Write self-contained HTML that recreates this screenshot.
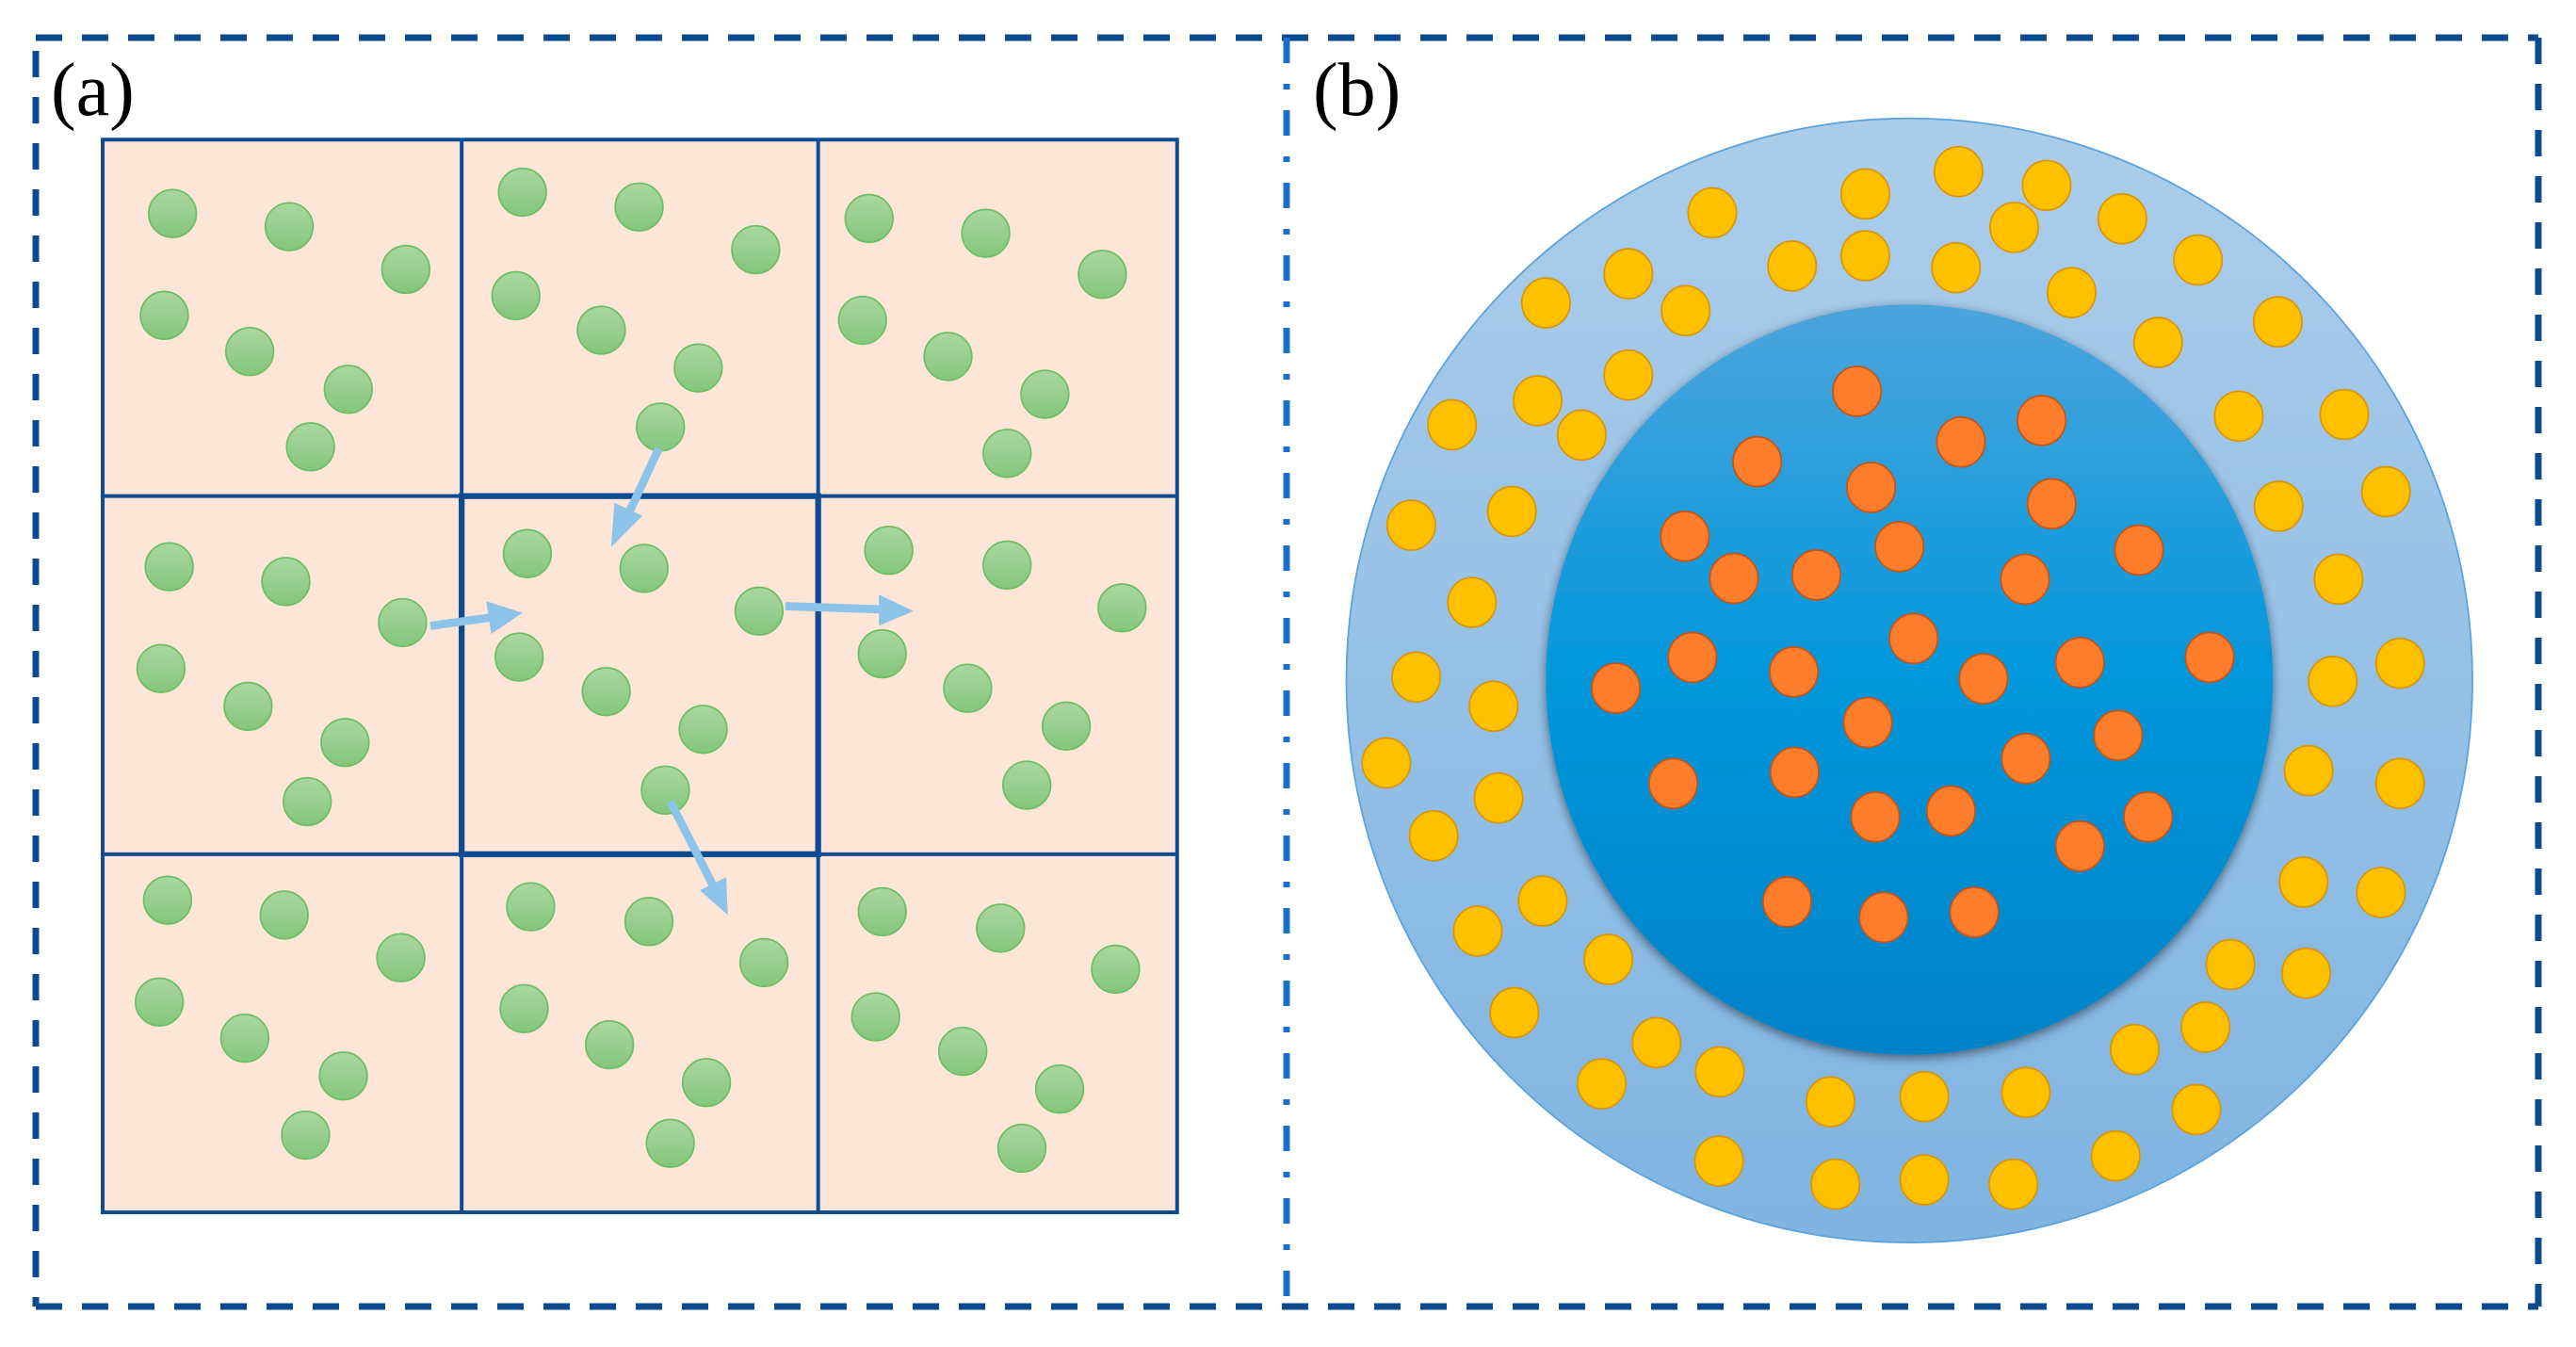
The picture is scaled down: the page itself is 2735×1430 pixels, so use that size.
<!DOCTYPE html>
<html><head><meta charset="utf-8"><style>
html,body{margin:0;padding:0;background:#fff;}
svg{display:block;}
</style></head><body>
<svg width="2735" height="1430" viewBox="0 0 2735 1430" xmlns="http://www.w3.org/2000/svg">
<defs>
<linearGradient id="g" x1="0" y1="0" x2="0" y2="1"><stop offset="0" stop-color="#aad7a2"/><stop offset="1" stop-color="#84c67c"/></linearGradient>
<linearGradient id="ring" x1="0" y1="0" x2="0" y2="1"><stop offset="0" stop-color="#abcdeb"/><stop offset="1" stop-color="#7fb4e1"/></linearGradient>
<linearGradient id="core" x1="0" y1="0" x2="0" y2="1"><stop offset="0" stop-color="#4ca5dc"/><stop offset="0.5" stop-color="#0097dc"/><stop offset="1" stop-color="#0282c8"/></linearGradient>
<filter id="sh" x="-10%" y="-10%" width="120%" height="120%"><feGaussianBlur in="SourceAlpha" stdDeviation="6"/><feOffset dy="4"/><feComponentTransfer><feFuncA type="linear" slope="0.5"/></feComponentTransfer><feMerge><feMergeNode/><feMergeNode in="SourceGraphic"/></feMerge></filter>
</defs>

<g transform="scale(1.7443,1.7439)">
  <rect x="62" y="85" width="654" height="653" fill="#fde5d8"/>
  <g stroke="#0e4c92" stroke-width="2.3" fill="none">
    <rect x="62.5" y="85" width="654" height="653"/>
    <line x1="281" y1="85" x2="281" y2="738"/>
    <line x1="498" y1="85" x2="498" y2="738"/>
    <line x1="62" y1="302" x2="716" y2="302"/>
    <line x1="62" y1="520" x2="716" y2="520"/>
    <rect x="281" y="302" width="217" height="218" stroke-width="3.6"/>
  </g>
  <g fill="url(#g)" stroke="#6cbf62" stroke-width="1">
    <circle cx="105" cy="130" r="14.5"/><circle cx="176" cy="138" r="14.5"/><circle cx="247" cy="164" r="14.5"/><circle cx="100" cy="192" r="14.5"/><circle cx="152" cy="214" r="14.5"/><circle cx="212" cy="237" r="14.5"/><circle cx="189" cy="272" r="14.5"/>
    <circle cx="318" cy="117" r="14.5"/><circle cx="389" cy="126" r="14.5"/><circle cx="460" cy="152" r="14.5"/><circle cx="314" cy="180" r="14.5"/><circle cx="366" cy="201" r="14.5"/><circle cx="425" cy="224" r="14.5"/><circle cx="402" cy="260" r="14.5"/>
    <circle cx="529" cy="133" r="14.5"/><circle cx="600" cy="142" r="14.5"/><circle cx="671" cy="167" r="14.5"/><circle cx="525" cy="195" r="14.5"/><circle cx="577" cy="217" r="14.5"/><circle cx="636" cy="240" r="14.5"/><circle cx="613" cy="276" r="14.5"/>
    <circle cx="103" cy="345" r="14.5"/><circle cx="174" cy="354" r="14.5"/><circle cx="245" cy="379" r="14.5"/><circle cx="98" cy="407" r="14.5"/><circle cx="151" cy="430" r="14.5"/><circle cx="210" cy="452" r="14.5"/><circle cx="187" cy="488" r="14.5"/>
    <circle cx="321" cy="337" r="14.5"/><circle cx="392" cy="346" r="14.5"/><circle cx="462" cy="372" r="14.5"/><circle cx="316" cy="400" r="14.5"/><circle cx="369" cy="421" r="14.5"/><circle cx="428" cy="444" r="14.5"/><circle cx="405" cy="481" r="14.5"/>
    <circle cx="541" cy="335" r="14.5"/><circle cx="613" cy="344" r="14.5"/><circle cx="683" cy="370" r="14.5"/><circle cx="537" cy="398" r="14.5"/><circle cx="589" cy="419" r="14.5"/><circle cx="649" cy="442" r="14.5"/><circle cx="625" cy="478" r="14.5"/>
    <circle cx="102" cy="548" r="14.5"/><circle cx="173" cy="557" r="14.5"/><circle cx="244" cy="583" r="14.5"/><circle cx="97" cy="610" r="14.5"/><circle cx="149" cy="632" r="14.5"/><circle cx="209" cy="655" r="14.5"/><circle cx="186" cy="691" r="14.5"/>
    <circle cx="323" cy="552" r="14.5"/><circle cx="395" cy="561" r="14.5"/><circle cx="465" cy="586" r="14.5"/><circle cx="319" cy="614" r="14.5"/><circle cx="371" cy="636" r="14.5"/><circle cx="430" cy="659" r="14.5"/><circle cx="408" cy="696" r="14.5"/>
    <circle cx="537" cy="555" r="14.5"/><circle cx="609" cy="565" r="14.5"/><circle cx="679" cy="590" r="14.5"/><circle cx="533" cy="619" r="14.5"/><circle cx="586" cy="640" r="14.5"/><circle cx="645" cy="663" r="14.5"/><circle cx="622" cy="699" r="14.5"/>
  </g>
  <g stroke="#8cc3e8" stroke-width="5" fill="#8cc3e8">
    <line x1="401" y1="273" x2="382" y2="314"/><polygon points="372,333 374,306 391,314" stroke="none"/>
    <line x1="262" y1="381" x2="298" y2="376"/><polygon points="318,373 296,366 299,386" stroke="none"/>
    <line x1="478" y1="369" x2="537" y2="371"/><polygon points="556,372 535,362 535,381" stroke="none"/>
    <line x1="408" y1="488" x2="434" y2="539"/><polygon points="443,557 426,542 442,534" stroke="none"/>
  </g>
</g>
<text x="54" y="122" font-family="Liberation Serif, serif" font-size="80" fill="#000">(a)</text>

<g transform="translate(1350,0) scale(0.883,0.911)">
  <ellipse cx="767" cy="793" rx="677" ry="655" fill="url(#ring)" stroke="#5ca3dc" stroke-width="2"/>
  <circle cx="767" cy="792" r="437" fill="url(#core)" filter="url(#sh)"/>
  <g fill="#ffc000" stroke="#d8960a" stroke-width="2">
    <circle cx="530" cy="248" r="29"/><circle cx="714" cy="226" r="29"/><circle cx="826" cy="200" r="29"/><circle cx="932" cy="216" r="29"/><circle cx="1023" cy="255" r="29"/><circle cx="893" cy="265" r="29"/><circle cx="626" cy="310" r="29"/><circle cx="714" cy="298" r="29"/><circle cx="823" cy="312" r="29"/><circle cx="962" cy="341" r="29"/><circle cx="1114" cy="303" r="29"/><circle cx="1210" cy="375" r="29"/><circle cx="1066" cy="399" r="29"/><circle cx="429" cy="319" r="29"/><circle cx="330" cy="353" r="29"/><circle cx="498" cy="362" r="29"/><circle cx="429" cy="437" r="29"/><circle cx="320" cy="467" r="29"/><circle cx="373" cy="507" r="29"/><circle cx="217" cy="495" r="29"/><circle cx="289" cy="596" r="29"/><circle cx="168" cy="612" r="29"/><circle cx="1163" cy="485" r="29"/><circle cx="1290" cy="483" r="29"/><circle cx="1340" cy="573" r="29"/><circle cx="1211" cy="590" r="29"/><circle cx="1283" cy="675" r="29"/><circle cx="241" cy="702" r="29"/><circle cx="174" cy="789" r="29"/><circle cx="267" cy="823" r="29"/><circle cx="138" cy="889" r="29"/><circle cx="273" cy="930" r="29"/><circle cx="195" cy="974" r="29"/><circle cx="1276" cy="794" r="29"/><circle cx="1357" cy="773" r="29"/><circle cx="1247" cy="898" r="29"/><circle cx="1357" cy="913" r="29"/><circle cx="1241" cy="1028" r="29"/><circle cx="1334" cy="1040" r="29"/><circle cx="326" cy="1050" r="29"/><circle cx="248" cy="1085" r="29"/><circle cx="405" cy="1118" r="29"/><circle cx="292" cy="1180" r="29"/><circle cx="463" cy="1215" r="29"/><circle cx="397" cy="1263" r="29"/><circle cx="539" cy="1249" r="29"/><circle cx="1153" cy="1124" r="29"/><circle cx="1244" cy="1134" r="29"/><circle cx="1123" cy="1197" r="29"/><circle cx="1038" cy="1223" r="29"/><circle cx="1112" cy="1293" r="29"/><circle cx="672" cy="1284" r="29"/><circle cx="785" cy="1278" r="29"/><circle cx="907" cy="1273" r="29"/><circle cx="538" cy="1353" r="29"/><circle cx="678" cy="1380" r="29"/><circle cx="785" cy="1375" r="29"/><circle cx="892" cy="1380" r="29"/><circle cx="1015" cy="1347" r="29"/>
  </g>
  <g fill="#fd7d2a" stroke="#c2561a" stroke-width="2">
    <circle cx="704" cy="456" r="29"/><circle cx="829" cy="515" r="29"/><circle cx="926" cy="490" r="29"/><circle cx="584" cy="538" r="29"/><circle cx="721" cy="568" r="29"/><circle cx="938" cy="587" r="29"/><circle cx="497" cy="625" r="29"/><circle cx="755" cy="637" r="29"/><circle cx="556" cy="674" r="29"/><circle cx="655" cy="670" r="29"/><circle cx="906" cy="675" r="29"/><circle cx="1043" cy="641" r="29"/><circle cx="772" cy="744" r="29"/><circle cx="506" cy="766" r="29"/><circle cx="414" cy="802" r="29"/><circle cx="628" cy="783" r="29"/><circle cx="856" cy="791" r="29"/><circle cx="972" cy="772" r="29"/><circle cx="1128" cy="766" r="29"/><circle cx="717" cy="842" r="29"/><circle cx="1018" cy="857" r="29"/><circle cx="483" cy="913" r="29"/><circle cx="629" cy="900" r="29"/><circle cx="907" cy="884" r="29"/><circle cx="726" cy="952" r="29"/><circle cx="817" cy="945" r="29"/><circle cx="1054" cy="952" r="29"/><circle cx="972" cy="986" r="29"/><circle cx="620" cy="1051" r="29"/><circle cx="736" cy="1069" r="29"/><circle cx="845" cy="1063" r="29"/>
  </g>
</g>
<text x="1394" y="122" font-family="Liberation Serif, serif" font-size="80" fill="#000">(b)</text>

<g fill="none" stroke="#0b4a8f" stroke-width="7" stroke-dasharray="28 21">
  <line x1="38" y1="40" x2="2695" y2="40"/>
  <line x1="38" y1="1387" x2="2695" y2="1387"/>
  <line x1="38" y1="54" x2="38" y2="1387"/>
  <line x1="2695" y1="40" x2="2695" y2="1387"/>
</g>
<line x1="1366" y1="40" x2="1366" y2="1387" stroke="#1a6fc8" stroke-width="7" stroke-dasharray="27 22 6 22"/>
</svg>
</body></html>
